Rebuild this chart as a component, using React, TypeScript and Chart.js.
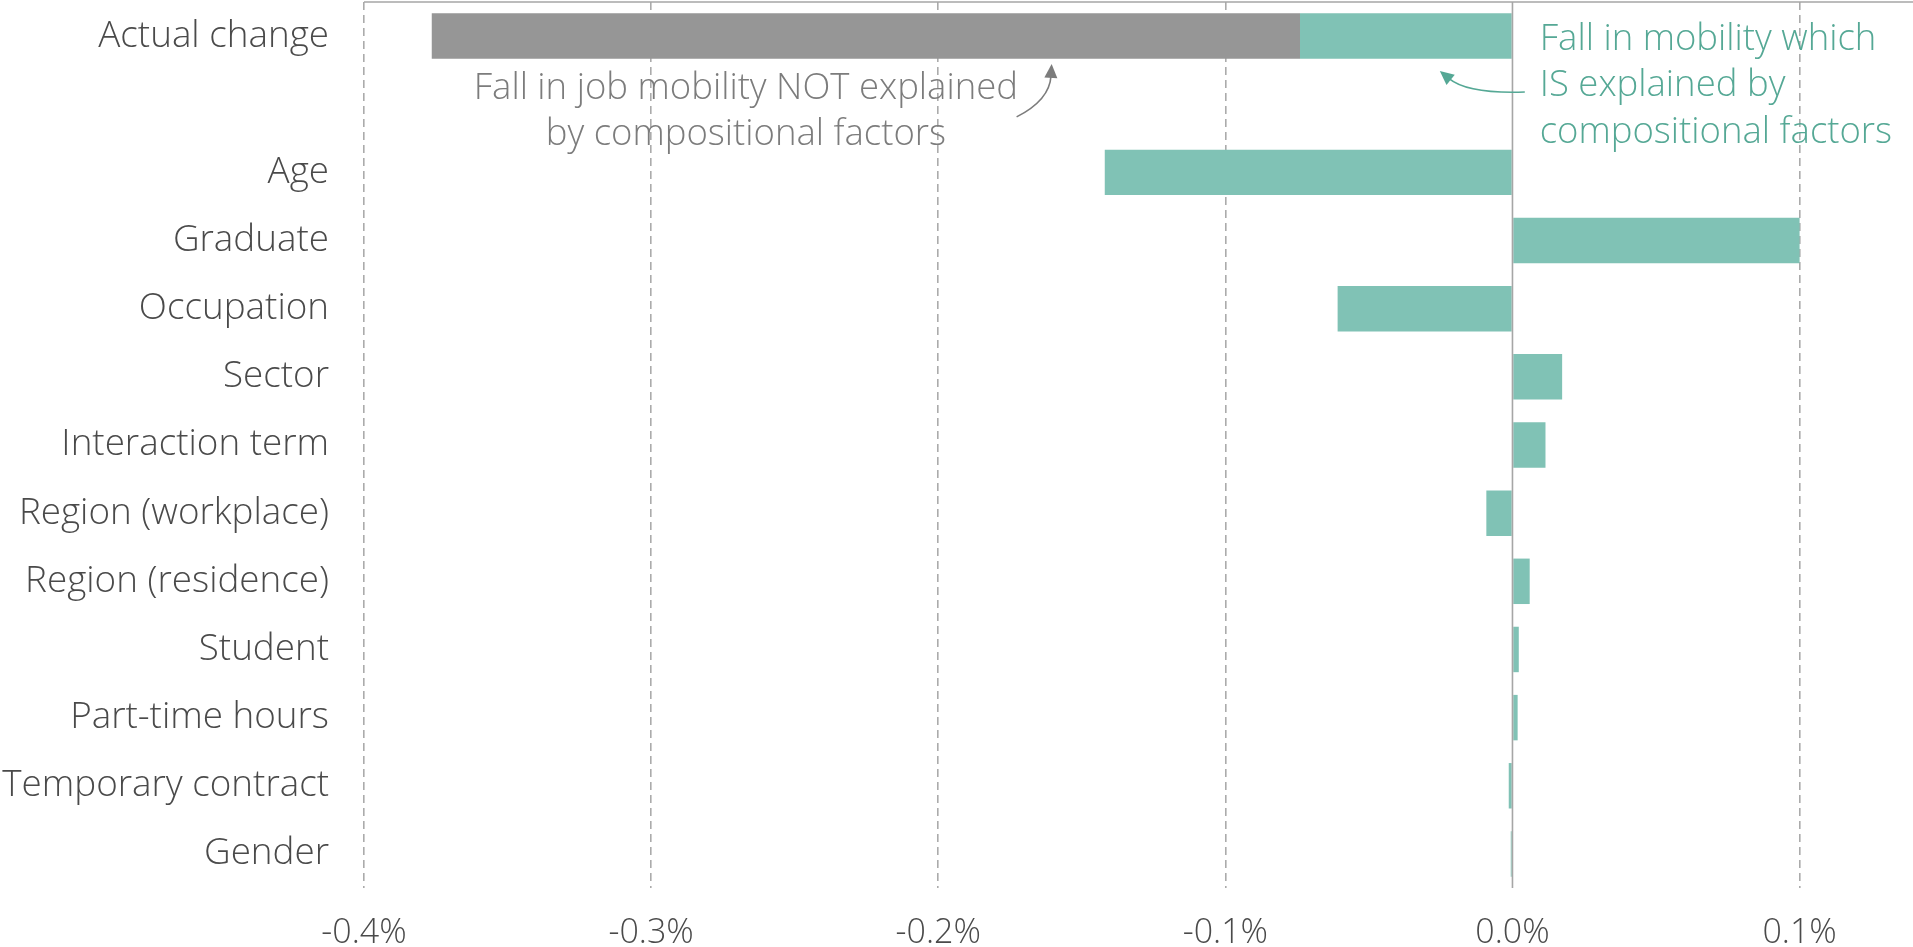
import React, { useEffect, useRef } from 'react';
import { Chart, registerables } from 'chart.js';

Chart.register(...registerables);

// ---- data ----
const categories = [
  'Actual change',
  '',
  'Age',
  'Graduate',
  'Occupation',
  'Sector',
  'Interaction term',
  'Region (workplace)',
  'Region (residence)',
  'Student',
  'Part-time hours',
  'Temporary contract',
  'Gender',
];
// change explained by compositional factors (%)
const explainedValues = [-0.074, null, -0.142, 0.1, -0.0609, 0.0173, 0.0115, -0.0091, 0.006, 0.0022, 0.0018, -0.0013, -0.0006];
// change NOT explained by compositional factors (%)
const unexplainedValues = [-0.3024, null, null, null, null, null, null, null, null, null, null, null, null];
const xTickValues = [-0.4, -0.3, -0.2, -0.1, 0, 0.1];
const xMin = -0.4;
const xMax = 0.1395;
const grayNoteLines = ['Fall in job mobility NOT explained', 'by compositional factors'];
const tealNoteLines = ['Fall in mobility which', 'IS explained by', 'compositional factors'];

// ---- styles / annotation anchors (data space) ----
const TEAL = '#80c2b5';
const GRAY = '#969696';
const TEAL_TEXT = '#55a895';
const GRAY_TEXT = '#7c7c7c';
const LABEL = '#4a4a4a';
const FONT = "'Open Sans', sans-serif";
const grayNoteAnchor = { x: -0.267, y: 0.922 };
const tealNoteAnchor = { x: 0.0095, y: 0.204 };
const grayArrow = { from: { x: -0.1727, y: 1.186 }, ctrl: { x: -0.1612, y: 0.937 }, to: { x: -0.1605, y: 0.409 } };
const tealArrow = { from: { x: 0.0043, y: 0.82 }, ctrl: { x: -0.0156, y: 0.849 }, to: { x: -0.0253, y: 0.512 } };

function drawArrow(ctx: CanvasRenderingContext2D, chart: any, a: any, color: string) {
  const xs = chart.scales.x;
  const ys = chart.scales.y;
  const p = (pt: any) => ({ x: xs.getPixelForValue(pt.x), y: ys.getPixelForValue(pt.y) });
  const f = p(a.from), c = p(a.ctrl), t = p(a.to);
  const dx = t.x - c.x, dy = t.y - c.y;
  const len = Math.hypot(dx, dy) || 1;
  const ux = dx / len, uy = dy / len;
  const headLen = 14, headHalf = 6.5;
  const bx = t.x - ux * headLen, by = t.y - uy * headLen;
  ctx.save();
  ctx.strokeStyle = color;
  ctx.fillStyle = color;
  ctx.lineWidth = 1.6;
  ctx.beginPath();
  ctx.moveTo(f.x, f.y);
  ctx.quadraticCurveTo(c.x, c.y, bx + ux * 2, by + uy * 2);
  ctx.stroke();
  ctx.beginPath();
  ctx.moveTo(t.x, t.y);
  ctx.lineTo(bx - uy * headHalf, by + ux * headHalf);
  ctx.lineTo(bx + uy * headHalf, by - ux * headHalf);
  ctx.closePath();
  ctx.fill();
  ctx.restore();
}

const decorPlugin = {
  id: 'decor',
  afterDatasetsDraw(chart: any) {
    const { ctx, chartArea } = chart;
    const xs = chart.scales.x;
    ctx.save();
    // zero line
    const x0 = xs.getPixelForValue(0);
    ctx.strokeStyle = '#a6a6a6';
    ctx.lineWidth = 1.6;
    ctx.beginPath();
    ctx.moveTo(x0, chartArea.top);
    ctx.lineTo(x0, chartArea.bottom);
    ctx.stroke();
    // top border
    ctx.beginPath();
    ctx.moveTo(chartArea.left, chartArea.top);
    ctx.lineTo(chartArea.right, chartArea.top);
    ctx.stroke();
    ctx.restore();
  },
  afterDraw(chart: any) {
    const { ctx } = chart;
    const xs = chart.scales.x;
    const ys = chart.scales.y;
    ctx.save();
    ctx.font = `300 36.5px ${FONT}`;
    ctx.textBaseline = 'alphabetic';
    // gray note
    ctx.fillStyle = GRAY_TEXT;
    ctx.textAlign = 'center';
    const gx = xs.getPixelForValue(grayNoteAnchor.x);
    const gy = ys.getPixelForValue(grayNoteAnchor.y);
    grayNoteLines.forEach((line, i) => ctx.fillText(line, gx, gy + i * 46));
    // teal note
    ctx.fillStyle = TEAL_TEXT;
    ctx.textAlign = 'left';
    const tx = xs.getPixelForValue(tealNoteAnchor.x);
    const ty = ys.getPixelForValue(tealNoteAnchor.y);
    tealNoteLines.forEach((line, i) => ctx.fillText(line, tx, ty + i * 46.5));
    ctx.restore();
    drawArrow(ctx, chart, grayArrow, GRAY_TEXT);
    drawArrow(ctx, chart, tealArrow, TEAL_TEXT);
  },
};

export default function App() {
  const ref = useRef<HTMLCanvasElement | null>(null);

  useEffect(() => {
    document.body.style.margin = '0';
    const canvas = ref.current;
    if (!canvas) return;
    const chart = new Chart(canvas, {
      type: 'bar',
      data: {
        labels: categories,
        datasets: [
          {
            label: 'Explained',
            data: explainedValues as any,
            backgroundColor: TEAL,
            borderWidth: 0,
            barPercentage: 0.667,
            categoryPercentage: 1,
          },
          {
            label: 'Not explained',
            data: unexplainedValues as any,
            backgroundColor: GRAY,
            borderWidth: 0,
            barPercentage: 0.667,
            categoryPercentage: 1,
          },
        ],
      },
      options: {
        indexAxis: 'y',
        responsive: false,
        animation: false,
        devicePixelRatio: 1,
        layout: { padding: { top: 2, right: 0, bottom: 0, left: 0 } },
        plugins: { legend: { display: false }, tooltip: { enabled: false } },
        scales: {
          x: {
            type: 'linear',
            position: 'bottom',
            min: xMin,
            max: xMax,
            stacked: true,
            afterBuildTicks: (scale: any) => {
              scale.ticks = xTickValues.map((v) => ({ value: v }));
            },
            afterFit: (scale: any) => {
              scale.height = 59;
              scale.paddingLeft = 0;
              scale.paddingRight = 0;
            },
            grid: {
              drawTicks: false,
              lineWidth: 1.6,
              color: (c: any) => (c.tick && c.tick.value === 0 ? 'rgba(0,0,0,0)' : '#ababab'),
            },
            border: { display: false, dash: [8, 5] },
            ticks: {
              color: LABEL,
              padding: 25,
              font: { family: FONT, size: 34, weight: '300' as any },
              maxRotation: 0,
              callback: (v: any) => Number(v).toFixed(1) + '%',
            },
          },
          y: {
            type: 'category',
            stacked: true,
            afterFit: (scale: any) => {
              scale.width = 364;
              scale.paddingTop = 0;
              scale.paddingBottom = 0;
            },
            grid: { display: false, drawTicks: false },
            border: { display: false },
            ticks: {
              color: LABEL,
              padding: 35,
              autoSkip: false,
              font: { family: FONT, size: 36.8, weight: '300' as any },
            },
          },
        },
      },
      plugins: [decorPlugin],
    });
    return () => chart.destroy();
  }, []);

  return <canvas ref={ref} width={1913} height={947} style={{ display: 'block' }} />;
}
